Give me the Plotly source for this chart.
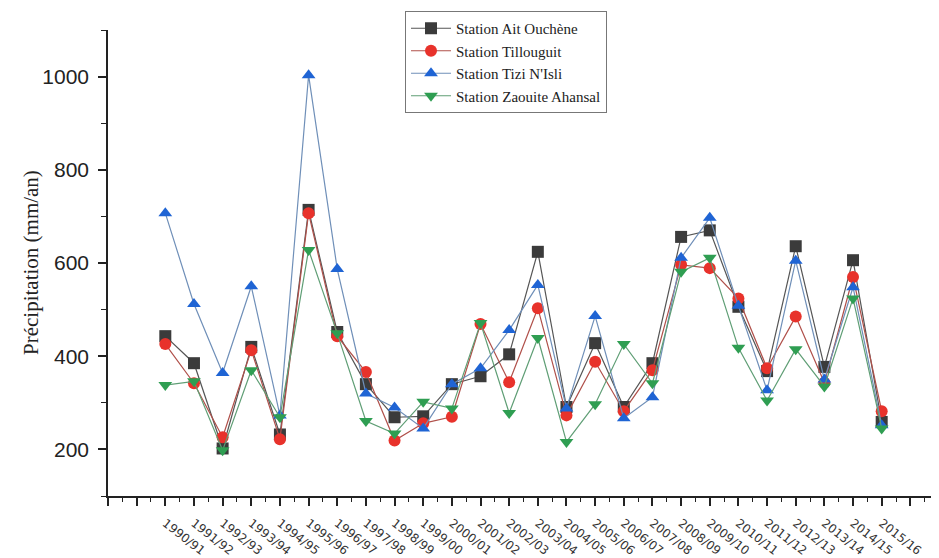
import plotly.graph_objects as go

years = ["1990/91", "1991/92", "1992/93", "1993/94", "1994/95", "1995/96", "1996/97",
         "1997/98", "1998/99", "1999/00", "2000/01", "2001/02", "2002/03", "2003/04",
         "2004/05", "2005/06", "2006/07", "2007/08", "2008/09", "2009/10", "2010/11",
         "2011/12", "2012/13", "2013/14", "2014/15", "2015/16"]

ait_ouchene = [443, 385, 202, 420, 232, 714, 452, 340, 269, 271, 340, 357, 404, 624,
               291, 428, 291, 385, 656, 670, 506, 368, 636, 377, 606, 259]
tillouguit = [426, 342, 226, 413, 222, 707, 443, 366, 219, 256, 270, 469, 344, 503,
              273, 388, 282, 370, 596, 589, 524, 374, 485, 343, 570, 282]
tizi_nisli = [707, 512, 364, 550, 273, 1003, 587, 320, 290, 245, 340, 374, 456, 553,
              288, 486, 267, 312, 611, 697, 508, 327, 605, 350, 548, 252]
zaouite = [338, 346, 198, 370, 269, 628, 449, 261, 234, 302, 288, 471, 278, 439,
           216, 297, 426, 342, 581, 611, 418, 305, 415, 335, 524, 245]

series = [
    ("Station Ait Ouchène", ait_ouchene, "square", "#3b3b3b", "#555555"),
    ("Station Tillouguit", tillouguit, "circle", "#e8322b", "#b0504a"),
    ("Station Tizi N'Isli", tizi_nisli, "triangle-up", "#1f64d4", "#6f8fb8"),
    ("Station Zaouite Ahansal", zaouite, "triangle-down", "#2f9e52", "#5f9e75"),
]

idx = list(range(len(years)))
fig = go.Figure()
for name, vals, sym, mcol, lcol in series:
    fig.add_trace(go.Scatter(
        x=idx, y=vals, name=name, mode="lines+markers",
        line=dict(color=lcol, width=1.2),
        marker=dict(symbol=sym, size=12, color=mcol, line=dict(width=0)),
    ))

tickvals = list(range(-2, 28))
ticktext = [years[i] if 0 <= i < len(years) else "" for i in tickvals]

# page body has an 8px default margin, so figure coordinates are offset by 8px
fig.update_layout(
    width=939, height=558,
    margin=dict(l=100, r=8, t=22, b=70, autoexpand=False),
    paper_bgcolor="white", plot_bgcolor="white",
    showlegend=True,
    legend=dict(
        xref="container", yref="container",
        x=397 / 939, y=1 - 3 / 558, xanchor="left", yanchor="top",
        bordercolor="#777777", borderwidth=1, bgcolor="white",
        font=dict(family="Liberation Serif", size=15, color="#222222"),
        itemwidth=40, tracegroupgap=0,
    ),
    xaxis=dict(
        range=[-2, 27.0], tickmode="array", tickvals=tickvals, ticktext=ticktext,
        showgrid=False, zeroline=False, showline=True, linecolor="#222222", linewidth=1.5,
        ticks="outside", ticklen=8, tickwidth=1.5, tickcolor="#222222",
        tickangle=38, ticklabelstandoff=6,
        tickfont=dict(family="DejaVu Sans", size=12, color="#333333"),
        minor=dict(tick0=0.5, dtick=1, ticks="outside", ticklen=4, tickwidth=1.2, tickcolor="#222222"),
    ),
    yaxis=dict(
        range=[100, 1100], tickmode="linear", tick0=200, dtick=200,
        showgrid=False, zeroline=False, showline=True, linecolor="#222222", linewidth=1.5,
        ticks="outside", ticklen=8, tickwidth=1.5, tickcolor="#222222",
        ticklabelstandoff=5,
        tickfont=dict(family="Liberation Sans", size=21, color="#222222"),
        minor=dict(tick0=100, dtick=200, ticks="outside", ticklen=5, tickwidth=1.2, tickcolor="#222222"),
    ),
    annotations=[dict(
        text="Précipitation (mm/an)", xref="paper", yref="paper", x=0, y=0.5,
        xanchor="center", yanchor="middle", xshift=-77, textangle=-90, showarrow=False,
        font=dict(family="Liberation Serif", size=21, color="#222222"),
    )],
)

fig.write_html("out.html")
